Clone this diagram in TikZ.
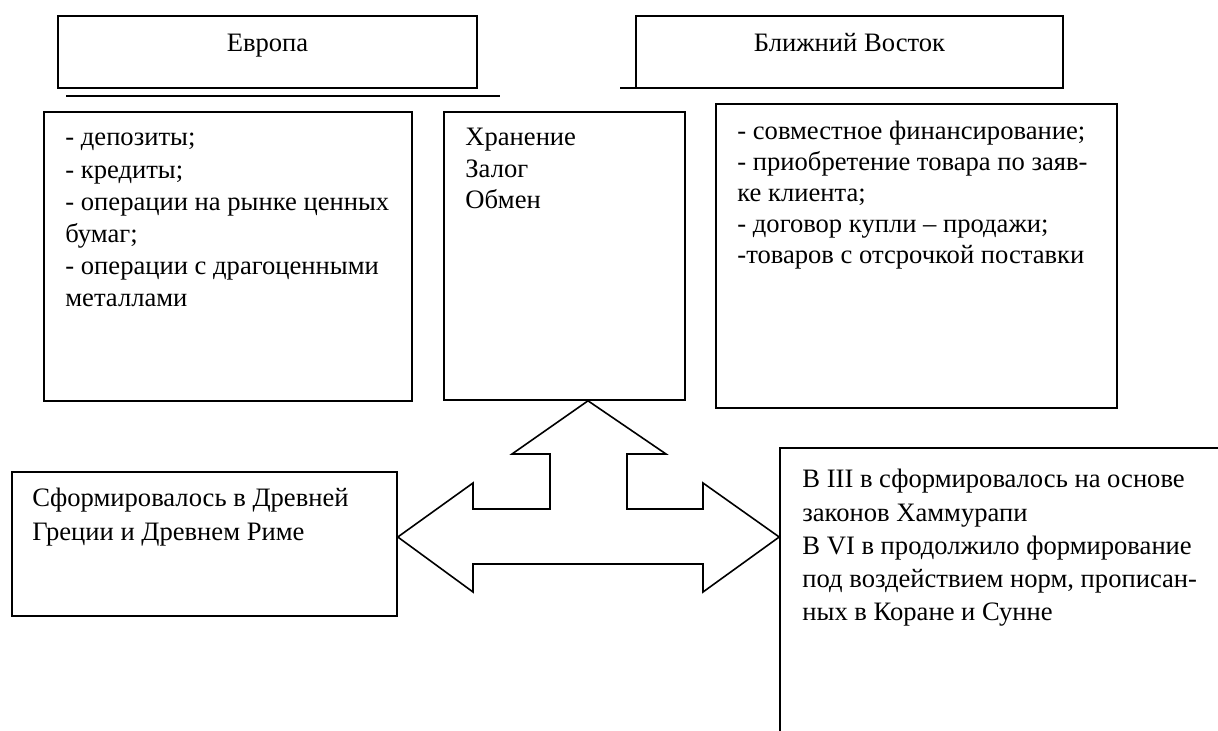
\documentclass[tikz,border=0pt]{standalone}
\usepackage{fontspec}
\setmainfont{Liberation Serif}
\usetikzlibrary{fit}

\begin{document}
\begin{tikzpicture}[x=0.5pt, y=-0.5pt,
    box/.style={draw, line width=0.8pt, inner sep=0pt},
    txt/.style={anchor=north west, align=left, inner sep=0pt,
        font=\fontsize{13.3}{15.5}\selectfont},
    head/.style={anchor=base, inner sep=0pt, font=\fontsize{13.3}{15.5}\selectfont}]
            \useasboundingbox (0,0) rectangle (1218,731);
            \clip (0,0) rectangle (1218,731);

            % headings
            \node[box, fit={(58,16) (477,88)}] (EU) {};
            \node[head] (EUt) at (EU.north |- 0,52) {Европа};
            \node[box, fit={(636,16) (1063,88)}] (BV) {};
            \node[head] (BVt) at (BV.north |- 0,52) {Ближний Восток};
            \draw[line width=0.8pt] (66,96) -- (500,96);
            \draw[line width=0.8pt] (620,88) -- (1017,88);

            % upper boxes
            \node[box, fit={(44,112) (412,401)}] (EUops) {};
            \node[txt, font=\fontsize{13.3}{16.1}\selectfont] (EUopst) at (65,133) {- депозиты;\\- кредиты;\\- операции на рынке ценных\\бумаг;\\- операции с драгоценными\\металлами};
            \node[box, fit={(444,112) (685,400)}] (fn) {};
            \node[txt, font=\fontsize{13.3}{15.7}\selectfont] (fnt) at (465,128) {Хранение\\Залог\\Обмен};
            \node[box, fit={(716,104) (1117,408)}] (BVops) {};
            \node[txt, font=\fontsize{13.3}{15.4}\selectfont] (BVopst) at (737,121) {- совместное финансирование;\\- приобретение товара по заяв-\\ке клиента;\\- договор купли – продажи;\\-товаров с отсрочкой поставки};

            % lower boxes
            \node[box, fit={(12,472) (397,616)}] (EUorig) {};
            \node[txt, font=\fontsize{13.3}{17}\selectfont] (EUorigt) at (32,488) {Сформировалось в Древней\\Греции и Древнем Риме};
            \node[box, fit={(780,448) (1240,760)}] (BVorig) {};
            \node[txt, font=\fontsize{13.3}{16.6}\selectfont] (BVorigt) at (802,469) {В III в сформировалось на основе\\законов Хаммурапи\\В VI в продолжило формирование\\под воздействием норм, прописан-\\ных в Коране и Сунне};

            % block arrow
            \draw[line width=0.8pt] (fn.south -| 588,0) -- (666,454) -- (627,454) -- (627,509)
                -- (703,509) -- (703,483) -- (BVorig.west |- 0,537) -- (703,592) -- (703,564)
                -- (473,564) -- (473,592) -- (EUorig.east |- 0,537) -- (473,483) -- (473,509)
                -- (550,509) -- (550,454) -- (512,454) -- cycle;

        \end{tikzpicture}
\end{document}
